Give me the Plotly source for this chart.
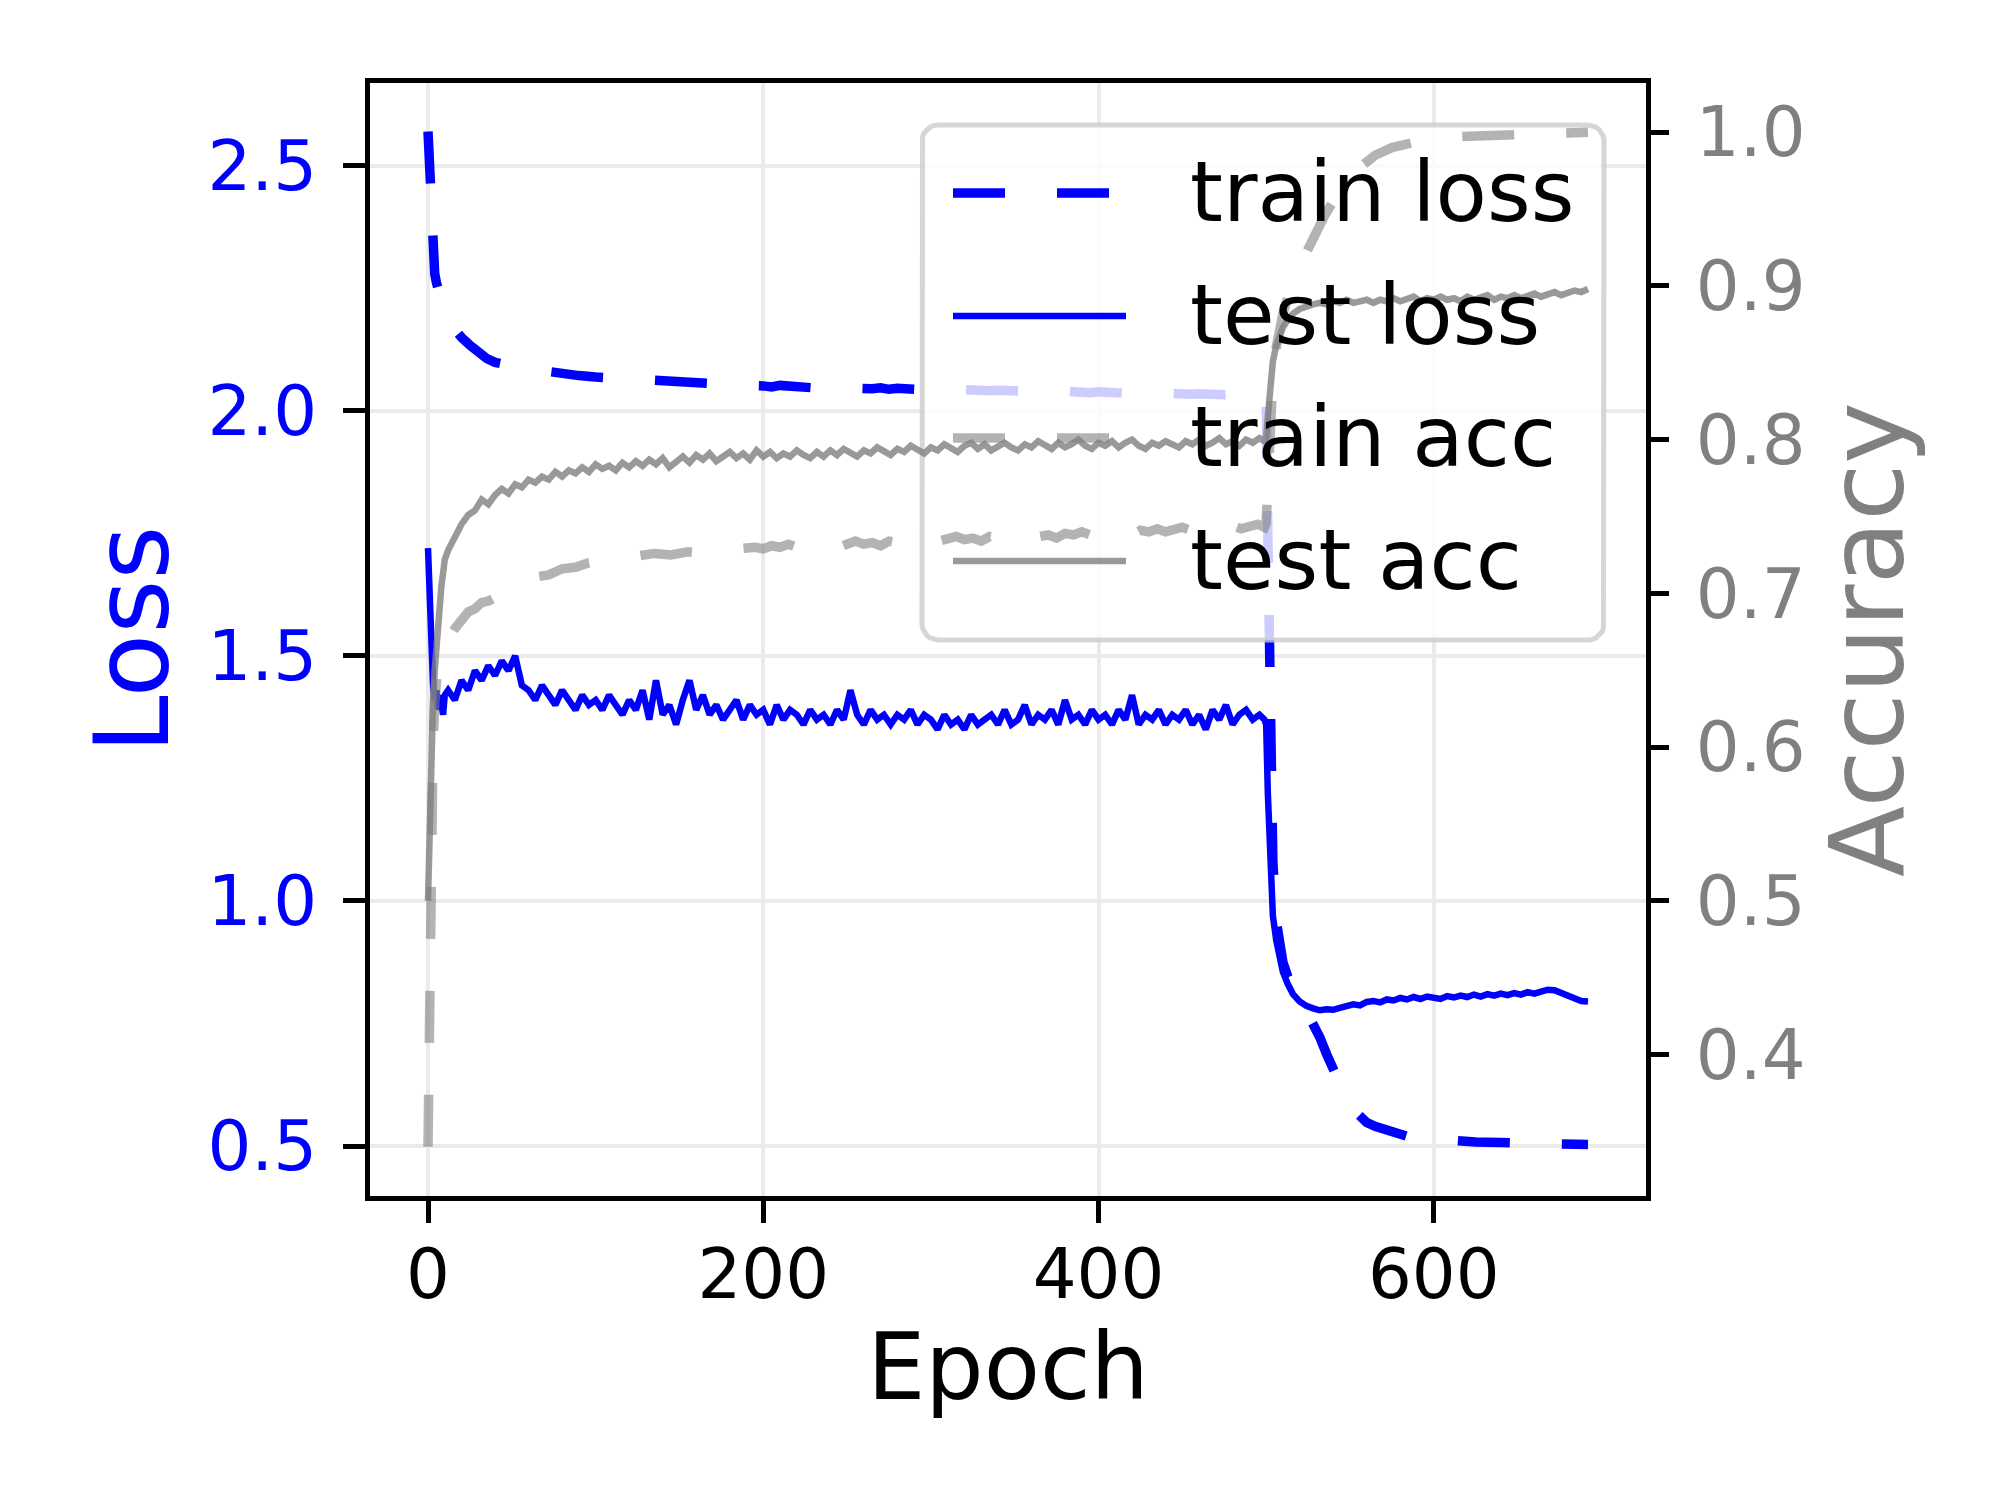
import math
import plotly.graph_objects as go

# ---------------- data ----------------
test_epochs = (list(range(0, 11)) + list(range(12, 500, 4)) + [499, 500]
               + [501, 502, 503, 504, 506, 508, 510, 513, 516, 520]
               + list(range(524, 693, 4)))

test_loss = [
    1.72, 1.60, 1.49, 1.44, 1.41, 1.43, 1.39, 1.42, 1.40, 1.38, 1.42,
    # 12 .. 496 step 4
    1.43, 1.41, 1.45, 1.43, 1.47, 1.45, 1.48, 1.46, 1.49, 1.47,
    1.50, 1.44, 1.43, 1.41, 1.44, 1.42, 1.40, 1.43, 1.41, 1.39,
    1.42, 1.40, 1.41, 1.39, 1.42, 1.40, 1.38, 1.41, 1.39, 1.43,
    1.37, 1.45, 1.38, 1.40, 1.36, 1.41, 1.45, 1.39, 1.42, 1.38,
    1.40, 1.37, 1.39, 1.41, 1.37, 1.40, 1.38, 1.39, 1.36, 1.40,
    1.37, 1.39, 1.38, 1.36, 1.39, 1.37, 1.38, 1.36, 1.39, 1.37,
    1.43, 1.38, 1.36, 1.39, 1.37, 1.38, 1.36, 1.38, 1.37, 1.39,
    1.36, 1.38, 1.37, 1.35, 1.38, 1.36, 1.37, 1.35, 1.38, 1.36,
    1.37, 1.38, 1.36, 1.39, 1.36, 1.37, 1.40, 1.36, 1.38, 1.37,
    1.39, 1.36, 1.41, 1.37, 1.38, 1.36, 1.39, 1.37, 1.38, 1.36,
    1.39, 1.37, 1.42, 1.36, 1.38, 1.37, 1.39, 1.36, 1.38, 1.37,
    1.39, 1.36, 1.38, 1.35, 1.39, 1.37, 1.40, 1.36, 1.38, 1.39,
    1.37, 1.38,
    # 499, 500
    1.37, 1.36,
    # phase 2
    1.22, 1.10, 1.02, 0.97, 0.92, 0.88, 0.855, 0.83, 0.81, 0.795,
    0.786, 0.781, 0.777, 0.779, 0.778, 0.782, 0.785, 0.789, 0.787, 0.794,
    0.796, 0.793, 0.799, 0.797, 0.802, 0.799, 0.804, 0.800, 0.805, 0.802,
    0.800, 0.806, 0.803, 0.807, 0.804, 0.809, 0.805, 0.810, 0.807, 0.811,
    0.808, 0.812, 0.809, 0.814, 0.811, 0.815, 0.819, 0.818, 0.812, 0.805,
    0.799, 0.796, 0.795,
]

test_acc = [
    0.50, 0.56, 0.60, 0.63, 0.65, 0.667, 0.68, 0.694, 0.705, 0.713, 0.722,
    # 12 .. 496 step 4
    0.728, 0.737, 0.745, 0.751, 0.754, 0.761, 0.758, 0.764, 0.768, 0.765,
    0.771, 0.769, 0.774, 0.772, 0.776, 0.774, 0.779, 0.776, 0.780, 0.778,
    0.782, 0.779, 0.784, 0.781, 0.783, 0.780, 0.785, 0.782, 0.786, 0.783,
    0.787, 0.784, 0.788, 0.782, 0.786, 0.789, 0.785, 0.790, 0.787, 0.791,
    0.786, 0.789, 0.792, 0.788, 0.791, 0.787, 0.793, 0.789, 0.792, 0.788,
    0.791, 0.789, 0.793, 0.790, 0.788, 0.792, 0.789, 0.793, 0.790, 0.794,
    0.791, 0.789, 0.793, 0.791, 0.795, 0.792, 0.790, 0.794, 0.792, 0.796,
    0.793, 0.791, 0.795, 0.793, 0.797, 0.794, 0.792, 0.796, 0.798, 0.794,
    0.797, 0.793, 0.796, 0.798, 0.795, 0.793, 0.797, 0.795, 0.799, 0.796,
    0.794, 0.798, 0.795, 0.797, 0.800, 0.796, 0.794, 0.798, 0.796, 0.799,
    0.795, 0.798, 0.800, 0.796, 0.794, 0.798, 0.796, 0.799, 0.797, 0.795,
    0.799, 0.797, 0.800, 0.796, 0.798, 0.801, 0.797, 0.799, 0.796, 0.800,
    0.798, 0.801,
    # 499, 500
    0.799, 0.801,
    # phase 2
    0.815, 0.830, 0.842, 0.851, 0.861, 0.868, 0.873, 0.878, 0.882, 0.885,
    0.887, 0.888, 0.889, 0.888, 0.890, 0.889, 0.891, 0.889, 0.890, 0.891,
    0.889, 0.891, 0.890, 0.892, 0.890, 0.891, 0.893, 0.890, 0.892, 0.891,
    0.893, 0.891, 0.892, 0.890, 0.893, 0.891, 0.892, 0.894, 0.891, 0.893,
    0.892, 0.894, 0.892, 0.893, 0.895, 0.893, 0.894, 0.896, 0.894, 0.895,
    0.897, 0.896, 0.898,
]

train_loss_epochs = ([0, 1, 2, 3, 4, 5, 6, 8, 10, 13, 16, 20, 25, 30, 35, 40, 46, 52, 58, 64,
                      72, 80, 90, 100, 110, 120, 130, 140, 150, 160, 175, 190]
                     + list(range(200, 500, 5)) + [499, 500]
                     + [501, 502, 503, 504, 506, 508, 510, 513, 516, 520,
                        524, 528, 532, 536, 540, 544, 548, 552, 556, 560,
                        565, 570, 576, 584, 592, 600, 612, 625, 640, 660,
                        680, 692])

train_loss = [
    2.57, 2.46, 2.36, 2.31, 2.28, 2.262, 2.248, 2.222, 2.20, 2.178,
    2.163, 2.15, 2.134, 2.12, 2.107, 2.099, 2.094, 2.088, 2.086, 2.084,
    2.079, 2.078, 2.072, 2.069, 2.067, 2.064, 2.060, 2.058, 2.058, 2.056,
    2.053, 2.052,
    # 200 .. 495 step 5
    2.051, 2.049, 2.052, 2.050, 2.048, 2.050, 2.047, 2.049, 2.048, 2.046,
    2.048, 2.046, 2.047, 2.045, 2.047, 2.044, 2.046, 2.044, 2.045, 2.043,
    2.045, 2.043, 2.044, 2.042, 2.043, 2.041, 2.043, 2.041, 2.042, 2.040,
    2.042, 2.040, 2.041, 2.039, 2.040, 2.038, 2.040, 2.038, 2.039, 2.037,
    2.039, 2.037, 2.038, 2.036, 2.038, 2.036, 2.037, 2.035, 2.036, 2.034,
    2.036, 2.034, 2.035, 2.033, 2.035, 2.033, 2.034, 2.032, 2.034, 2.032,
    # 499, 500
    2.033, 2.030,
    # phase 2
    1.75, 1.45, 1.22, 1.08, 0.96, 0.91, 0.875, 0.845, 0.82, 0.795,
    0.775, 0.752, 0.722, 0.688, 0.655, 0.624, 0.596, 0.574, 0.558, 0.548,
    0.540, 0.534, 0.527, 0.520, 0.516, 0.513, 0.510, 0.508, 0.507, 0.505,
    0.504, 0.503,
]

train_acc_epochs = ([0, 1, 2, 3, 4, 5, 6, 8, 10, 13, 16, 20, 24, 28, 32, 36, 40, 45, 50, 55,
                     60, 66, 72, 80, 88, 96, 105, 115, 125, 135, 145, 155, 165, 175, 185, 195]
                    + list(range(200, 500, 5)) + [499, 500]
                    + [501, 502, 503, 504, 506, 508, 510, 513, 516, 520,
                       525, 530, 535, 540, 545, 550, 557, 565, 575, 585,
                       595, 610, 630, 650, 670, 692])

train_acc = [
    0.34, 0.46, 0.55, 0.60, 0.628, 0.645, 0.655, 0.662, 0.667, 0.671,
    0.677, 0.683, 0.688, 0.690, 0.694, 0.695, 0.698, 0.700, 0.703, 0.706,
    0.708, 0.711, 0.712, 0.716, 0.717, 0.720, 0.721, 0.723, 0.724, 0.726,
    0.725, 0.727, 0.726, 0.728, 0.729, 0.730,
    # 200 .. 495 step 5
    0.729, 0.731, 0.730, 0.732, 0.730, 0.731, 0.733, 0.731, 0.732, 0.730,
    0.732, 0.734, 0.732, 0.733, 0.731, 0.734, 0.733, 0.735, 0.733, 0.734,
    0.736, 0.734, 0.735, 0.737, 0.735, 0.736, 0.734, 0.737, 0.736, 0.738,
    0.736, 0.737, 0.739, 0.737, 0.738, 0.736, 0.739, 0.738, 0.740, 0.738,
    0.739, 0.741, 0.739, 0.740, 0.738, 0.741, 0.740, 0.742, 0.740, 0.741,
    0.743, 0.741, 0.742, 0.740, 0.743, 0.742, 0.744, 0.742, 0.743, 0.745,
    # 499, 500
    0.743, 0.746,
    # phase 2
    0.77, 0.80, 0.823, 0.84, 0.86, 0.872, 0.882, 0.893, 0.902, 0.912,
    0.924, 0.936, 0.946, 0.955, 0.963, 0.970, 0.978, 0.985, 0.990, 0.993,
    0.995, 0.997, 0.998, 0.999, 0.999, 1.0,
]

x_ticks = [0, 200, 400, 600]
loss_ticks = [0.5, 1.0, 1.5, 2.0, 2.5]
acc_ticks = [0.4, 0.5, 0.6, 0.7, 0.8, 0.9, 1.0]
legend_labels = ["train loss", "test loss", "train acc", "test acc"]

# ---------------- styling ----------------
FONT = "DejaVu Sans"
BLUE = "#0000ff"
GRAY_TXT = "#808080"
C_TRAIN_LOSS = "#0000ff"
C_TEST_LOSS = "#0000ff"
C_TRAIN_ACC = "rgba(128,128,128,0.6)"
C_TEST_ACC = "rgba(128,128,128,0.8)"
DASH = "52px,52px"
LW_DASH = 9.5
LW_SOLID = 6.5
TICK_SIZE = 69

X_RANGE = [-34.6, 726.6]
LOSS_RANGE = [0.398, 2.669]
ACC_RANGE = [0.308, 1.032]

W, H = 2000, 1500
PL, PR, PT, PB = 362, 1638, 75, 1188   # plot area in pixels


def px(x):
    return (x - PL) / (PR - PL)


def py(y):
    return 1 - (y - PT) / (PB - PT)


def to_data_x(xp):
    return X_RANGE[0] + px(xp) * (X_RANGE[1] - X_RANGE[0])


def to_data_y(yp):
    return LOSS_RANGE[0] + py(yp) * (LOSS_RANGE[1] - LOSS_RANGE[0])


# legend geometry (pixels)
LEG_X0, LEG_X1, LEG_Y0, LEG_Y1 = 914, 1596, 117, 632
RAD = 16
HANDLE_X0, HANDLE_X1, TEXT_X = 945, 1118, 1180
ROWS = [185, 308, 430, 553]

# rounded frame outline (in the loss subplot, so the accuracy lines sit above it,
# exactly like a matplotlib legend that belongs to the first axes)
frame_x, frame_y = [], []
corners = [(LEG_X1 - RAD, LEG_Y0 + RAD, -90, 0), (LEG_X1 - RAD, LEG_Y1 - RAD, 0, 90),
           (LEG_X0 + RAD, LEG_Y1 - RAD, 90, 180), (LEG_X0 + RAD, LEG_Y0 + RAD, 180, 270)]
for cx, cy, a0, a1 in corners:
    for k in range(7):
        a = math.radians(a0 + (a1 - a0) * k / 6)
        frame_x.append(to_data_x(cx + RAD * math.cos(a)))
        frame_y.append(to_data_y(cy + RAD * math.sin(a)))
frame_x.append(frame_x[0])
frame_y.append(frame_y[0])

fig = go.Figure()
fig.add_trace(go.Scatter(x=train_loss_epochs, y=train_loss, mode="lines", name="train loss",
                         line=dict(color=C_TRAIN_LOSS, width=LW_DASH, dash=DASH),
                         showlegend=False, yaxis="y"))
fig.add_trace(go.Scatter(x=test_epochs, y=test_loss, mode="lines", name="test loss",
                         line=dict(color=C_TEST_LOSS, width=LW_SOLID),
                         showlegend=False, yaxis="y"))
fig.add_trace(go.Scatter(x=frame_x, y=frame_y, mode="lines", fill="toself",
                         fillcolor="rgba(255,255,255,0.8)",
                         line=dict(color="rgba(204,204,204,0.8)", width=5),
                         hoverinfo="skip", showlegend=False, name="legend frame", yaxis="y"))
fig.add_trace(go.Scatter(x=train_acc_epochs, y=train_acc, mode="lines", name="train acc",
                         line=dict(color=C_TRAIN_ACC, width=LW_DASH, dash=DASH),
                         showlegend=False, yaxis="y2"))
fig.add_trace(go.Scatter(x=test_epochs, y=test_acc, mode="lines", name="test acc",
                         line=dict(color=C_TEST_ACC, width=LW_SOLID),
                         showlegend=False, yaxis="y2"))

styles = [(C_TRAIN_LOSS, LW_DASH, DASH), (C_TEST_LOSS, LW_SOLID, "solid"),
          (C_TRAIN_ACC, LW_DASH, DASH), (C_TEST_ACC, LW_SOLID, "solid")]
shapes, annotations = [], []
for (col, lw, ds), ry_, lab in zip(styles, ROWS, legend_labels):
    shapes.append(dict(type="line", xref="paper", yref="paper", layer="above",
                       x0=px(HANDLE_X0), x1=px(HANDLE_X1), y0=py(ry_), y1=py(ry_),
                       line=dict(color=col, width=lw, dash=ds)))
    annotations.append(dict(text=lab, xref="paper", yref="paper", x=px(TEXT_X), y=py(ry_ - 1),
                            xanchor="left", yanchor="middle", showarrow=False,
                            font=dict(family=FONT, size=84, color="black")))

axis_common = dict(ticks="outside", ticklen=22, tickwidth=5, tickcolor="black",
                   zeroline=False)

fig.update_layout(
    width=W, height=H,
    margin=dict(l=PL, r=W - PR, t=PT, b=H - PB, pad=0),
    paper_bgcolor="white", plot_bgcolor="white",
    font=dict(family=FONT),
    showlegend=False,
    shapes=shapes, annotations=annotations,
    xaxis=dict(range=X_RANGE, tickvals=x_ticks, ticktext=[str(v) for v in x_ticks],
               showline=True, linewidth=5, linecolor="black", mirror=True,
               showgrid=True, gridcolor="#ebebeb", gridwidth=4,
               tickfont=dict(family=FONT, size=TICK_SIZE, color="black"),
               ticklabelstandoff=-8,
               title=dict(text="Epoch", font=dict(family=FONT, size=92, color="black"), standoff=20),
               **axis_common),
    yaxis=dict(range=LOSS_RANGE, tickvals=loss_ticks, ticktext=[f"{v:.1f}" for v in loss_ticks],
               showline=True, linewidth=5, linecolor="black", mirror=True,
               showgrid=True, gridcolor="#ebebeb", gridwidth=4,
               tickfont=dict(family=FONT, size=TICK_SIZE, color=BLUE),
               ticklabelstandoff=12,
               title=dict(text="Loss", font=dict(family=FONT, size=104, color=BLUE), standoff=6),
               **axis_common),
    yaxis2=dict(range=ACC_RANGE, tickvals=acc_ticks, ticktext=[f"{v:.1f}" for v in acc_ticks],
                overlaying="y", side="right", showline=False, showgrid=False,
                tickfont=dict(family=FONT, size=TICK_SIZE, color=GRAY_TXT),
                ticklabelstandoff=13,
                title=dict(text="Accuracy", font=dict(family=FONT, size=104, color=GRAY_TXT), standoff=14),
                **axis_common),
)

fig.write_html("out.html")
